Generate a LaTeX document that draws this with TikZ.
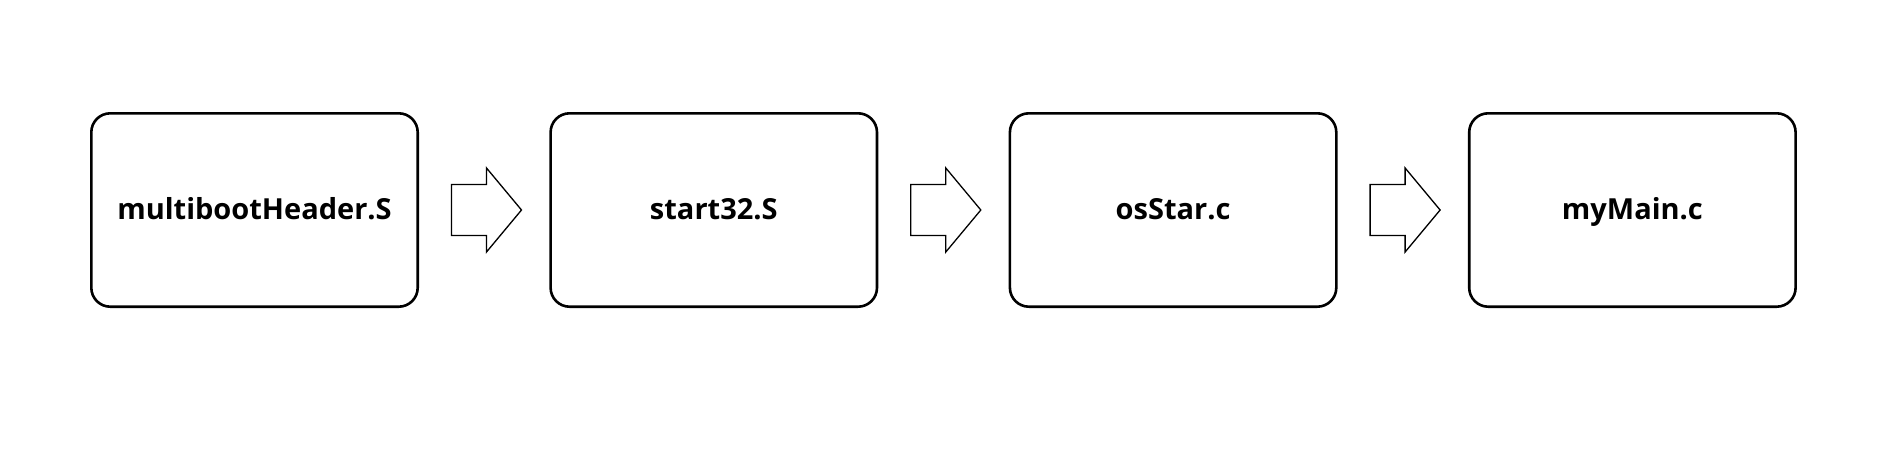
\documentclass[tikz,border=0pt]{standalone}
\usepackage{fontspec}
\setmainfont{Open Sans}[BoldFont={* Bold}]
\usetikzlibrary{calc}
\begin{document}
\begin{tikzpicture}[x=1pt,y=-1pt,
  filebox/.style={draw, line width=2.6pt, rounded corners=19pt, minimum width=326.4pt, minimum height=193.4pt, inner sep=0pt, text height=21pt, text depth=2pt, font=\fontsize{29}{34}\selectfont\bfseries},
  blockarrow/.style={draw, line width=1.3pt, line join=miter}]
\useasboundingbox (0,0) rectangle (1900,464);
\node[filebox] (b1) at (254.5,210) {multibootHeader.S};
\node[filebox] (b2) at (713.8,210) {start32.S};
\node[filebox] (b3) at (1173.1,210) {osStar.c};
\node[filebox] (b4) at (1632.4,210) {myMain.c};
\foreach \i/\j in {1/2,2/3,3/4}{
  \coordinate (a\i) at ($(b\i.east)+(32.5,0)$);
  \draw[blockarrow] ($(a\i)+(0,-25.5)$) -- ++(35,0) -- ++(0,-16.5) -- ($(a\i)+(70,0)$) -- ($(a\i)+(35,42)$) -- ++(0,-16.5) -- ($(a\i)+(0,25.5)$) -- cycle;
}
\end{tikzpicture}
\end{document}
